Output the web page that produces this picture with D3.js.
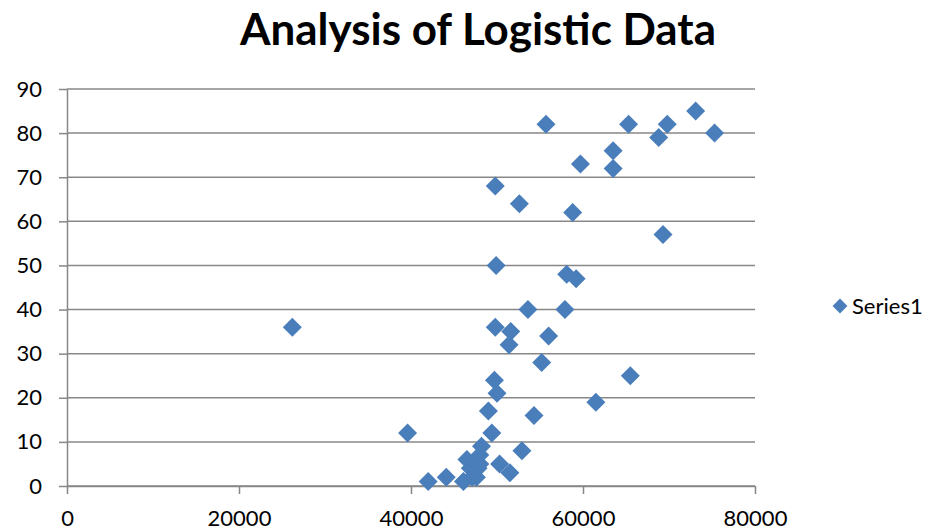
<!DOCTYPE html>
<html>
<head>
<meta charset="utf-8">
<script src="https://cdn.jsdelivr.net/npm/d3@7"></script>
<style>
  body { margin: 0; background: #fff; }
  text { font-family: Lato, "Open Sans", sans-serif; fill: #000; }
</style>
</head>
<body>
<div id="chart"></div>
<script>
// data
var xValues = [26200, 39600, 42000, 44100, 46100, 46500, 46900, 47100, 47600, 47800,
               48000, 48000, 48200, 49000, 49400, 49700, 50000, 50300, 51500, 52900,
               54300, 55200, 49800, 51600, 51400, 56000, 53600, 57900, 58100, 59200,
               49900, 61500, 65500, 69300, 58800, 52600, 49800, 59700, 63500, 63500,
               68800, 55700, 65300, 69800, 73100, 75300];
var yValues = [36, 12, 1, 2, 1, 6, 4, 2, 2, 4,
               5, 7, 9, 17, 12, 24, 21, 5, 3, 8,
               16, 28, 36, 35, 32, 34, 40, 40, 48, 47,
               50, 19, 25, 57, 62, 64, 68, 73, 72, 76,
               79, 82, 82, 82, 85, 80];
var xTicks = [0, 20000, 40000, 60000, 80000];
var yTicks = [0, 10, 20, 30, 40, 50, 60, 70, 80, 90];
var seriesName = "Series1";
var chartTitle = "Analysis of Logistic Data";

var W = 930, H = 531,
    margin = {top: 89, left: 67},
    width = 688,
    height = 397,
    color = "#4a7ebb";

var svg = d3.select("#chart").append("svg")
    .attr("width", W)
    .attr("height", H);

var g = svg.append("g")
    .attr("transform", "translate(" + margin.left + "," + margin.top + ")");

var x = d3.scaleLinear().domain([0, 80000]).range([0, width]),
    y = d3.scaleLinear().domain([0, 90]).range([height, 0]);

// gridlines
g.selectAll(".grid")
    .data(yTicks)
  .enter().append("line")
    .attr("class", "grid")
    .attr("x1", 0).attr("x2", width)
    .attr("y1", function(d){ return y(d); })
    .attr("y2", function(d){ return y(d); })
    .attr("stroke", "#878787")
    .attr("stroke-width", 1.5);

// y axis
var yAxis = g.append("g")
    .call(d3.axisLeft(y).tickValues(yTicks).tickSize(8).tickPadding(17).tickSizeOuter(0));
yAxis.select(".domain").attr("stroke", "#878787").attr("stroke-width", 1.5);
yAxis.selectAll(".tick line").attr("stroke", "#878787").attr("stroke-width", 1.5);
yAxis.selectAll("text").attr("font-size", 22).attr("fill", "#000");

// x axis
var xAxis = g.append("g")
    .attr("transform", "translate(0," + height + ")")
    .call(d3.axisBottom(x).tickValues(xTicks).tickSize(8).tickPadding(16).tickSizeOuter(0)
      .tickFormat(d3.format("d")));
xAxis.select(".domain").attr("stroke", "#878787").attr("stroke-width", 1.5);
xAxis.selectAll(".tick line").attr("stroke", "#878787").attr("stroke-width", 1.5);
xAxis.selectAll("text").attr("font-size", 22).attr("fill", "#000");

// points
var diamond = d3.symbol().type(d3.symbolDiamond2).size(230);
var points = xValues.map(function(v, i){ return {x: v, y: yValues[i]}; });
g.selectAll(".pt")
    .data(points)
  .enter().append("path")
    .attr("class", "pt")
    .attr("d", diamond)
    .attr("transform", function(d){ return "translate(" + x(d.x) + "," + y(d.y) + ")"; })
    .attr("fill", color);

// title
svg.append("text")
    .attr("x", 478).attr("y", 45)
    .attr("text-anchor", "middle")
    .attr("font-size", 44)
    .attr("font-weight", "bold")
    .attr("textLength", 476)
    .attr("lengthAdjust", "spacingAndGlyphs")
    .text(chartTitle);

// legend
var legend = svg.append("g").attr("transform", "translate(840,306)");
legend.append("path")
    .attr("d", d3.symbol().type(d3.symbolDiamond2).size(140))
    .attr("fill", color);
legend.append("text")
    .attr("x", 12).attr("y", 8)
    .attr("font-size", 22)
    .text(seriesName);
</script>
</body>
</html>
